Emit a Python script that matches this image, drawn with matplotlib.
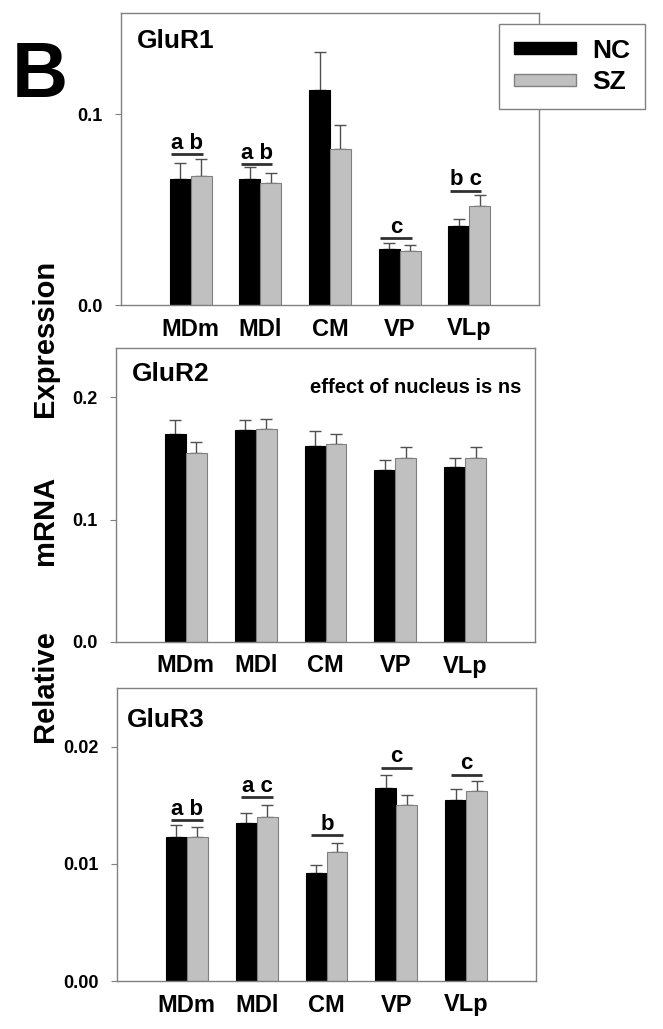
import numpy as np
import matplotlib
matplotlib.use('Agg')
import matplotlib.pyplot as plt
from matplotlib.patches import Patch

plt.rcParams['font.family'] = ['Liberation Sans', 'DejaVu Sans']
plt.rcParams['font.weight'] = 'bold'

# data
nuclei = ['MDm', 'MDl', 'CM', 'VP', 'VLp']
glur1_nc = [0.0660, 0.0658, 0.1124, 0.0293, 0.0415]
glur1_nc_err = [0.0083, 0.0063, 0.0202, 0.0030, 0.0034]
glur1_sz = [0.0675, 0.0640, 0.0817, 0.0284, 0.0518]
glur1_sz_err = [0.0089, 0.0053, 0.0127, 0.0030, 0.0058]
glur1_letters = ['a b', 'a b', '', 'c', 'b c']
glur1_line_y = [0.0790, 0.0738, None, 0.0349, 0.0598]

glur2_nc = [0.1697, 0.1727, 0.1604, 0.1408, 0.1432]
glur2_nc_err = [0.0112, 0.0087, 0.0118, 0.0079, 0.0074]
glur2_sz = [0.1542, 0.1741, 0.1615, 0.1503, 0.1506]
glur2_sz_err = [0.0087, 0.0081, 0.0087, 0.0088, 0.0082]

glur3_nc = [0.01230, 0.01345, 0.00923, 0.01647, 0.01544]
glur3_nc_err = [0.00100, 0.00091, 0.00071, 0.00108, 0.00094]
glur3_sz = [0.01225, 0.01400, 0.01097, 0.01504, 0.01624]
glur3_sz_err = [0.00085, 0.00098, 0.00077, 0.00086, 0.00079]
glur3_letters = ['a b', 'a c', 'b', 'c', 'c']
glur3_line_y = [0.01373, 0.01567, 0.01242, 0.01820, 0.01760]

W, H = 663, 1029
fig = plt.figure(figsize=(W / 100, H / 100), dpi=100)

def box(l, r, t, b):
    return [l / W, 1 - b / H, (r - l) / W, (b - t) / H]

gray = '#808080'
x = np.arange(len(nuclei))
bw = 0.3

def panel(rect, nc, nce, sz, sze, ymax, ticks, fmt, title, title_xy):
    ax = fig.add_axes(rect)
    ax.bar(x - bw / 2, nc, bw, color='black', edgecolor='black', linewidth=0.8, zorder=2)
    ax.bar(x + bw / 2, sz, bw, color='#c0c0c0', edgecolor=gray, linewidth=0.8, zorder=2)
    ax.errorbar(x - bw / 2, nc, yerr=[np.zeros(5), nce], fmt='none', ecolor='#505050',
                elinewidth=1, capsize=4, capthick=1, zorder=1)
    ax.errorbar(x + bw / 2, sz, yerr=[np.zeros(5), sze], fmt='none', ecolor='#505050',
                elinewidth=1, capsize=4, capthick=1, zorder=1)
    ax.set_xlim(-1, 5)
    ax.set_ylim(0, ymax)
    ax.set_yticks(ticks)
    ax.set_yticklabels([fmt % t for t in ticks], fontsize=13, fontweight='bold')
    ax.set_xticks(x)
    ax.set_xticklabels(['MDm', 'MDl', 'CM', 'VP', 'VLp'], fontsize=17, fontweight='bold')
    ax.tick_params(axis='x', length=0, pad=9)
    ax.tick_params(axis='y', length=4, color=gray, pad=9)
    for s in ax.spines.values():
        s.set_color(gray)
        s.set_linewidth(1)
    ax.text(title_xy[0], title_xy[1], title, transform=ax.transAxes, fontsize=19,
            fontweight='bold', ha='left', va='center')
    return ax

def letters(ax, labels, line_y, lo, hi):
    for i, (lab, ly) in enumerate(zip(labels, line_y)):
        if not lab:
            continue
        ax.plot([i + lo, i + hi], [ly, ly], color='#303030', lw=2, solid_capstyle='butt')
        ax.annotate(lab, ((2 * i + lo + hi) / 2, ly), xytext=(0, 4), textcoords='offset points',
                    ha='center', va='baseline', fontsize=16, fontweight='bold')

ax1 = panel(box(121, 539, 13, 305), glur1_nc, glur1_nc_err, glur1_sz, glur1_sz_err,
            0.153, [0.0, 0.1], '%.1f', 'GluR1', (0.038, 0.905))
letters(ax1, glur1_letters, glur1_line_y, -0.28, 0.17)

ax2 = panel(box(116, 535, 348, 642), glur2_nc, glur2_nc_err, glur2_sz, glur2_sz_err,
            0.240, [0.0, 0.1, 0.2], '%.1f', 'GluR2', (0.038, 0.911))
ax2.text(0.968, 0.865, 'effect of nucleus is ns', transform=ax2.transAxes, fontsize=14.5,
         fontweight='bold', ha='right', va='center')

ax3 = panel(box(117, 536, 688, 981), glur3_nc, glur3_nc_err, glur3_sz, glur3_sz_err,
            0.025, [0.00, 0.01, 0.02], '%.2f', 'GluR3', (0.023, 0.892))
letters(ax3, glur3_letters, glur3_line_y, -0.22, 0.23)

# legend
handles = [Patch(facecolor='black', edgecolor='black', label='NC'),
           Patch(facecolor='#c0c0c0', edgecolor=gray, label='SZ')]
leg = fig.legend(handles=handles, loc='upper left', bbox_to_anchor=(499 / W, 1 - 24 / H),
                 bbox_transform=fig.transFigure, borderaxespad=0, fancybox=False,
                 edgecolor=gray, framealpha=1, handlelength=2.35,
                 handleheight=0.3, handletextpad=0.65, labelspacing=0.3, borderpad=0.55,
                 prop={'weight': 'bold', 'size': 19})
leg.get_frame().set_linewidth(1)
leg.set_zorder(10)

# panel letter and y label
fig.text(12 / W, 1 - 97 / H, 'B', fontsize=56, fontweight='bold', ha='left', va='baseline')
for word, yc in [('Expression', 338), ('mRNA', 520), ('Relative', 686)]:
    fig.text(45 / W, 1 - yc / H, word, rotation=90, fontsize=21, fontweight='bold',
             ha='center', va='center')

fig.savefig('out.png', dpi=100)
